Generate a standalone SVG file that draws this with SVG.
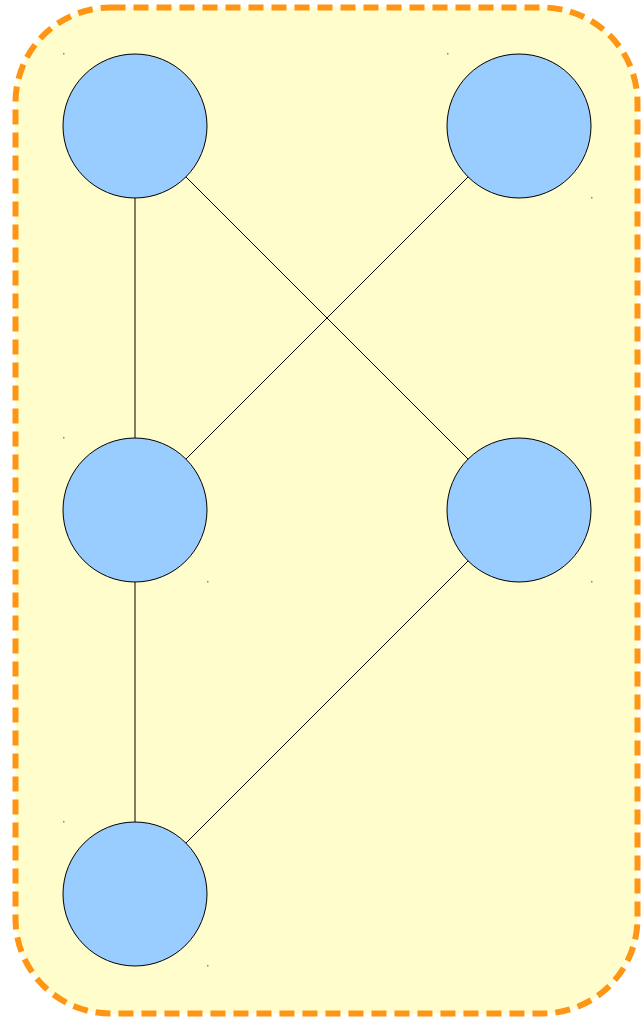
<svg xmlns="http://www.w3.org/2000/svg" width="643" height="1021" viewBox="0 0 643 1021">
<style>
.node{fill:#99CCFF;stroke:#000;stroke-width:1}
.edge{stroke:#000;stroke-width:1;fill:none}
.mark{fill:#8a8a70}
</style>
<rect x="0" y="0" width="643" height="1021" fill="#fff"/>
<g id="cluster">
<rect x="15.5" y="7.5" width="622" height="1006" rx="95" ry="95" fill="#FFFDCC" stroke="#FF9514" stroke-width="6" stroke-dasharray="15,8"/>
</g>
<g id="connectors">
<line class="edge" x1="135" y1="126" x2="135" y2="510"/>
<line class="edge" x1="135" y1="126" x2="519" y2="510"/>
<line class="edge" x1="519" y1="126" x2="135" y2="510"/>
<line class="edge" x1="135" y1="510" x2="135" y2="894"/>
<line class="edge" x1="519" y1="510" x2="135" y2="894"/>
</g>
<g id="n1"><circle class="node" cx="135" cy="126" r="72"/><rect class="mark" x="63" y="53" width="1.5" height="1.5"/></g>
<g id="n2"><circle class="node" cx="519" cy="126" r="72"/><rect class="mark" x="447" y="53" width="1.5" height="1.5"/><rect class="mark" x="591" y="197" width="1.5" height="1.5"/></g>
<g id="n3"><circle class="node" cx="135" cy="510" r="72"/><rect class="mark" x="63" y="437" width="1.5" height="1.5"/><rect class="mark" x="207" y="581" width="1.5" height="1.5"/></g>
<g id="n4"><circle class="node" cx="519" cy="510" r="72"/><rect class="mark" x="591" y="581" width="1.5" height="1.5"/></g>
<g id="n5"><circle class="node" cx="135" cy="894" r="72"/><rect class="mark" x="63" y="821" width="1.5" height="1.5"/><rect class="mark" x="207" y="965" width="1.5" height="1.5"/></g>
</svg>
